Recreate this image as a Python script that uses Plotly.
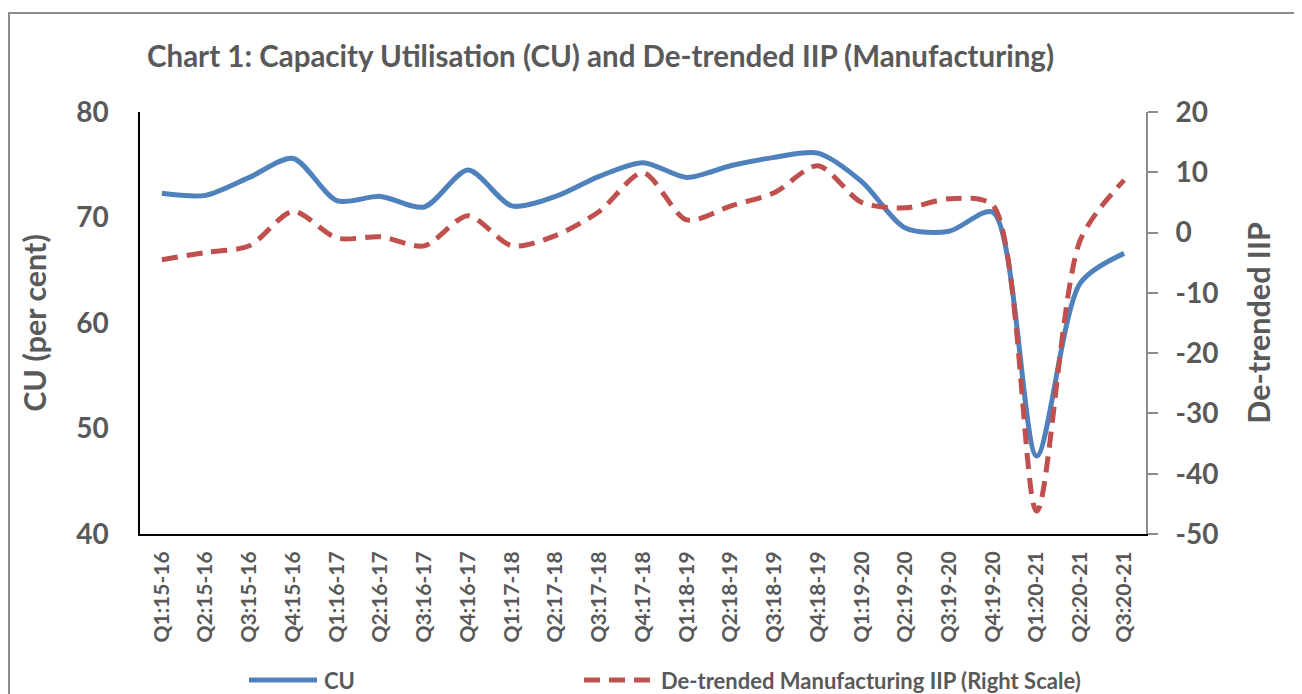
import plotly.graph_objects as go

quarters = ["Q1:15-16", "Q2:15-16", "Q3:15-16", "Q4:15-16",
            "Q1:16-17", "Q2:16-17", "Q3:16-17", "Q4:16-17",
            "Q1:17-18", "Q2:17-18", "Q3:17-18", "Q4:17-18",
            "Q1:18-19", "Q2:18-19", "Q3:18-19", "Q4:18-19",
            "Q1:19-20", "Q2:19-20", "Q3:19-20", "Q4:19-20",
            "Q1:20-21", "Q2:20-21", "Q3:20-21"]
cu = [72.3, 72.1, 73.8, 75.6, 71.6, 72.0, 71.0, 74.5, 71.1, 72.0, 73.9, 75.2,
      73.8, 74.9, 75.7, 76.1, 73.4, 69.0, 68.7, 70.5, 47.4, 63.8, 66.6]
iip = [-4.5, -3.3, -2.2, 3.5, -0.9, -0.7, -2.2, 2.8, -2.2, -0.5, 3.5, 9.9,
       2.1, 4.4, 6.6, 11.1, 5.0, 4.1, 5.6, 4.5, -46.2, -1.2, 8.7]
left_ticks = [40, 50, 60, 70, 80]
right_ticks = [-50, -40, -30, -20, -10, 0, 10, 20]
right_tick_text = ["-50", "-40", "-30", "-20", "-10", "0", "10", "20"]

FONT = "Lato"
GREY = "#595959"
BLUE = "#4F81BD"
RED = "#C0504D"

# page has an 8px body margin; figure coordinates = page coordinates - 8
OFF = 8
W, H = 1294, 686
L, T = 140 - OFF, 112 - OFF
R = W - (1146 - OFF)
B = H - (534 - OFF)
pw, ph = W - L - R, H - T - B


def px(x):
    return (x - OFF - L) / pw


def py(y):
    return (H - B - (y - OFF)) / ph


fig = go.Figure()
fig.add_trace(go.Scatter(x=quarters, y=cu, name="CU", mode="lines",
                         line=dict(color=BLUE, width=5, shape="spline", smoothing=0.8),
                         showlegend=False))
fig.add_trace(go.Scatter(x=quarters, y=iip, name="De-trended Manufacturing IIP (Right Scale)",
                         mode="lines", yaxis="y2",
                         line=dict(color=RED, width=5, shape="spline", smoothing=0.8,
                                   dash="16px,9px"),
                         showlegend=False))

shapes = [
    dict(type="rect", xref="paper", yref="paper", x0=px(9), x1=px(1330), y0=py(13), y1=py(720),
         line=dict(color="#8C8C8C", width=2), fillcolor="rgba(0,0,0,0)", layer="below"),
    dict(type="line", xref="paper", yref="paper", x0=px(249), x1=px(317), y0=py(680), y1=py(680),
         line=dict(color=BLUE, width=5)),
    dict(type="line", xref="paper", yref="paper", x0=px(584), x1=px(656), y0=py(680), y1=py(680),
         line=dict(color=RED, width=5, dash="16px,9px")),
]
annotations = [
    dict(text="CU", xref="paper", yref="paper", x=px(322), y=py(680), xanchor="left",
         yanchor="middle", showarrow=False, font=dict(family=FONT, size=22, color=GREY, weight="bold")),
    dict(text="De-trended Manufacturing IIP (Right Scale)", xref="paper", yref="paper",
         x=px(659), y=py(680), xanchor="left", yanchor="middle", showarrow=False,
         font=dict(family=FONT, size=22, color=GREY, weight="bold")),
]

fig.update_layout(
    width=W, height=H,
    margin=dict(l=L, r=R, t=T, b=B),
    paper_bgcolor="white", plot_bgcolor="white",
    showlegend=False,
    shapes=shapes, annotations=annotations,
    title=dict(text="Chart 1: Capacity Utilisation (CU) and De-trended IIP (Manufacturing)",
               x=(147 - OFF) / W, xanchor="left", y=1 - (57 - OFF) / H, yanchor="middle",
               font=dict(family=FONT, size=29.5, color=GREY, weight="bold")),
    xaxis=dict(type="category", range=[-0.5, 22.5], showgrid=False, tickangle=-90,
               showline=True, linecolor="#000000", linewidth=2, ticks="",
               tickfont=dict(family=FONT, size=21, color=GREY, weight="bold"),
               ticklabelstandoff=7),
    yaxis=dict(range=[40, 80], tickvals=left_ticks, showgrid=False, zeroline=False,
               showline=True, linecolor="#000000", linewidth=1.5, ticks="",
               tickfont=dict(family=FONT, size=28, color=GREY, weight="bold"),
               ticklabelstandoff=24,
               title=dict(text="CU (per cent)", standoff=20,
                          font=dict(family=FONT, size=30.5, color=GREY, weight="bold"))),
    yaxis2=dict(range=[-50, 20], tickvals=right_ticks, ticktext=right_tick_text,
                overlaying="y", side="right", showgrid=False,
                zeroline=False, showline=True, linecolor="#8C8C8C", linewidth=2,
                ticks="outside", ticklen=10, tickcolor="#8C8C8C", tickwidth=2,
                tickfont=dict(family=FONT, size=28, color=GREY, weight="bold"),
                ticklabelstandoff=12,
                title=dict(text="De-trended IIP", standoff=31,
                           font=dict(family=FONT, size=30.5, color=GREY, weight="bold"))),
)

fig.write_html("out.html")
